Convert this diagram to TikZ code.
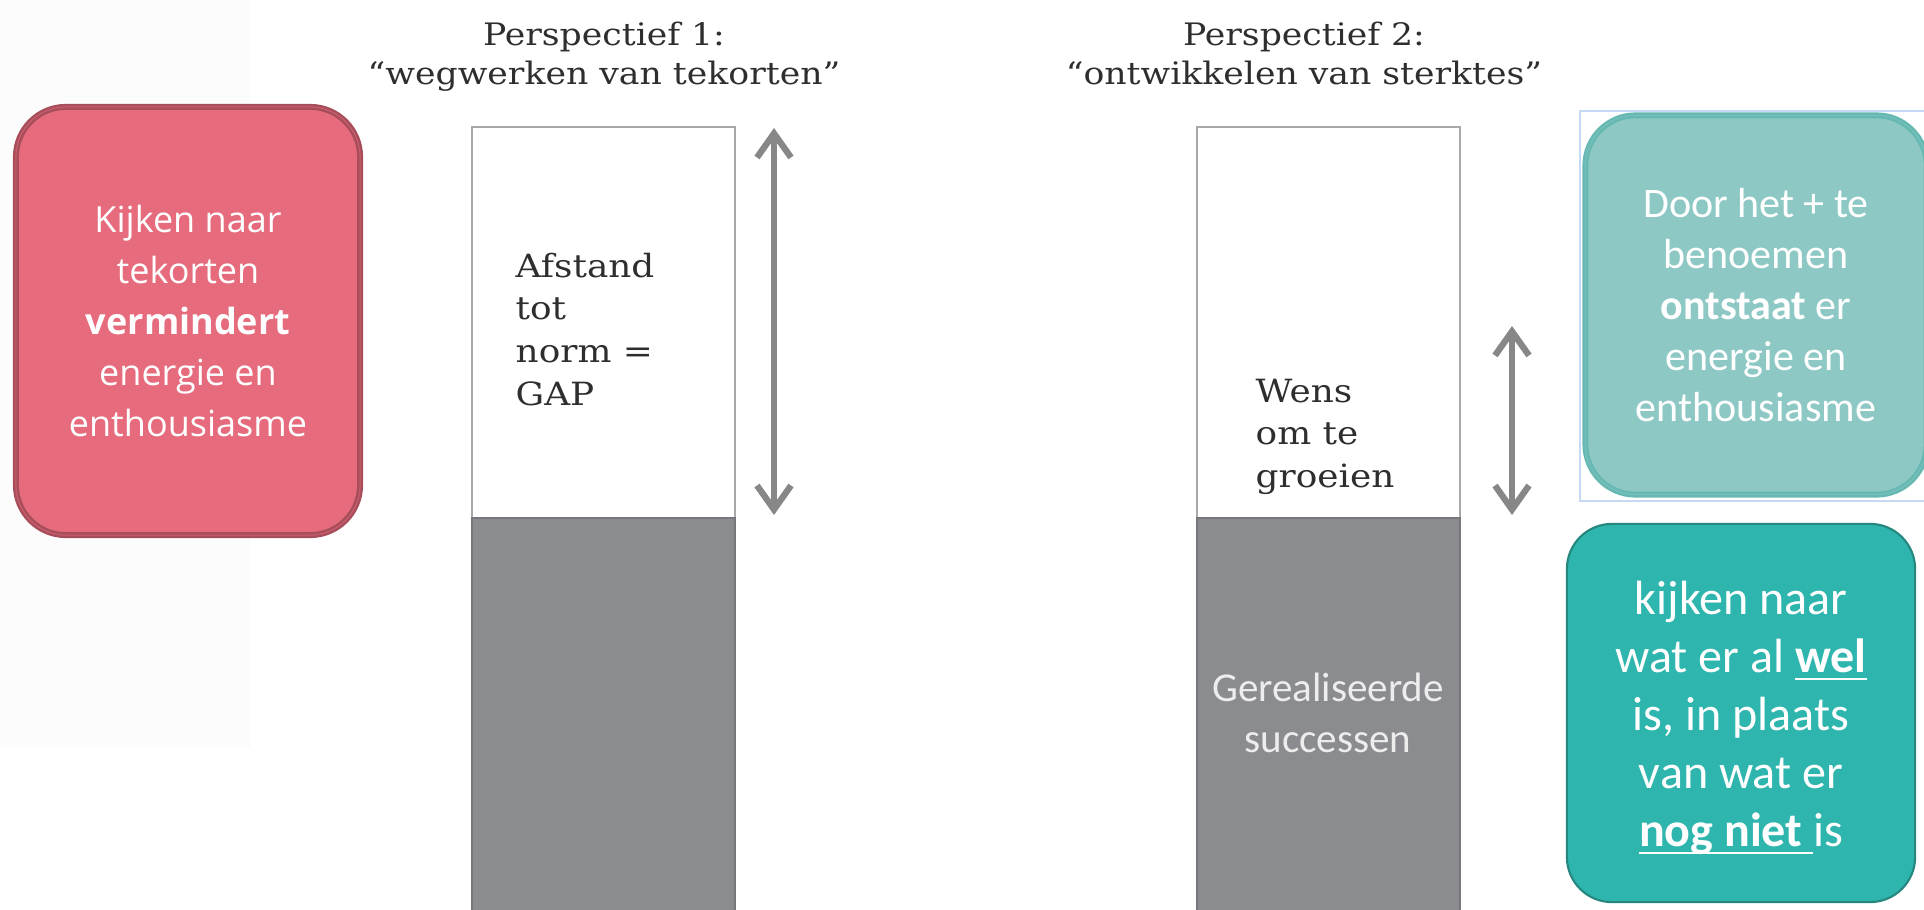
\documentclass[tikz,border=0pt]{standalone}
\usepackage{fontspec}
\usepackage{tikz}
\usetikzlibrary{arrows.meta}

\setmainfont{Carlito}
\newfontfamily\serifletter[FakeStretch=1.12]{DejaVu Serif}
\newfontfamily\opensans{Open Sans}

\definecolor{roze}{HTML}{E56B7D}
\definecolor{rozerand}{HTML}{A84E5B}
\definecolor{lichtteal}{HTML}{8DC8C5}
\definecolor{lichttealrand}{HTML}{66B9B2}
\definecolor{donkerteal}{HTML}{2EB5AD}
\definecolor{donkertealrand}{HTML}{26877F}
\definecolor{balkgrijs}{HTML}{8B8C90}
\definecolor{randgrijs}{HTML}{A9A9A9}
\definecolor{pijlgrijs}{HTML}{878787}
\definecolor{tekstgrijs}{HTML}{2E2E2E}
\definecolor{selectie}{HTML}{C6D9F4}
\definecolor{vaag}{HTML}{FCFCFC}

% onderstreping net onder de basislijn
\newcommand{\onderlijn}[1]{\setbox0=\hbox{#1}\rlap{\rule[-0.16em]{\wd0}{0.045em}}\box0}

\begin{document}
\begin{tikzpicture}[x=0.01cm,y=-0.01cm,
	titel/.style={align=center,anchor=north,inner sep=0pt,text=tekstgrijs,font=\serifletter\fontsize{8.8pt}{11.1pt}\selectfont},
	balktekst/.style={align=left,anchor=north west,inner sep=0pt,text=tekstgrijs,font=\serifletter\fontsize{9.1pt}{12.2pt}\selectfont},
	kader/.style={rounded corners=0.5cm,align=center,text=white,inner sep=0pt},
	pijl/.style={draw=pijlgrijs,line width=1.8pt,{Straight Barb[length=0.24cm,width=0.34cm]}-{Straight Barb[length=0.24cm,width=0.34cm]}}]
		% Rand
		\useasboundingbox (0,0) rectangle (1924,910);
		\fill[vaag] (0,0) rectangle (251,747);
		% Balken
		\foreach \x in {472,1197} {
			\draw[randgrijs,line width=0.6pt,fill=white] (\x,127) rectangle (\x+263,518);
			\draw[balkgrijs!85!black,line width=0.6pt,fill=balkgrijs] (\x,518) rectangle (\x+263,915);
		}
		% Titels
		\node[titel] (titel1) at (604,21) {Perspectief 1:\\“wegwerken van tekorten”};
		\node[titel] (titel2) at (1304,21) {Perspectief 2:\\“ontwikkelen van sterktes”};
		% Teksten in de balken
		\node[balktekst] (gap) at (515,252) {Afstand\\tot\\norm =\\GAP};
		\node[balktekst] (wens) at (1255,378) {Wens\\om te\\groeien};
		\node[align=center,inner sep=0pt,text=white!93!black,font=\fontsize{11.67pt}{14.5pt}\selectfont] (successen) at (1328,713) {Gerealiseerde\\successen};
		% Pijlen
		\coordinate (pijl1boven) at (774,128);
		\coordinate (pijl1onder) at (774,515);
		\coordinate (pijl2boven) at (1512,326);
		\coordinate (pijl2onder) at (1512,515);
		\draw[pijl] (pijl1boven) -- (pijl1onder);
		\draw[pijl] (pijl2boven) -- (pijl2onder);
		% Kaders
		\node[kader,fill=roze,draw=rozerand,line width=0.7pt,double=rozerand!45!roze,double distance=0.3pt,
			minimum width=3.44cm,minimum height=4.28cm,font=\opensans\fontsize{10.24pt}{14.5pt}\selectfont]
			(tekorten) at (188,321) {Kijken naar\\tekorten\\\textbf{vermindert}\\energie en\\enthousiasme};
		\draw[selectie,line width=0.4pt] (1580,111) rectangle (1934,501);
		\node[kader,fill=lichtteal,draw=lichttealrand,line width=0.7pt,double=lichttealrand!50!lichtteal,double distance=0.3pt,
			minimum width=3.41cm,minimum height=3.79cm,font=\fontsize{11.95pt}{14.5pt}\selectfont]
			(benoemen) at (1756,305) {Door het + te\\benoemen\\\textbf{ontstaat} er\\energie en\\enthousiasme};
		\node[kader,rounded corners=0.45cm,fill=donkerteal,draw=donkertealrand,line width=0.6pt,
			minimum width=3.48cm,minimum height=3.78cm,text depth=0pt,font=\fontsize{13.66pt}{16.5pt}\selectfont]
			(welniet) at (1741,713) {};
		\node[align=center,inner sep=0pt,text=white,font=\fontsize{13.66pt}{16.5pt}\selectfont]
			(welniettekst) at (1741,718) {kijken naar\\wat er al \onderlijn{\textbf{wel}}\\is, in plaats\\van wat er\\\onderlijn{\textbf{nog niet}\ }is};
	\end{tikzpicture}
\end{document}
